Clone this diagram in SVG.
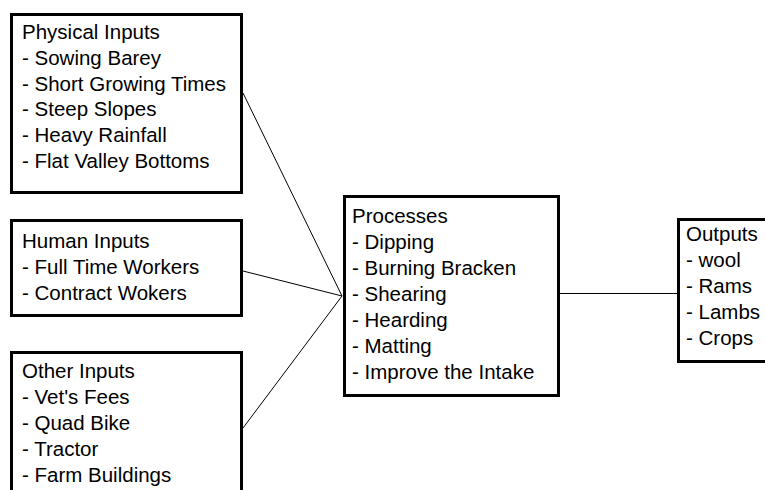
<svg xmlns="http://www.w3.org/2000/svg" width="765" height="490" viewBox="0 0 765 490">
  <style>
    .box { fill: #ffffff; stroke: #000000; stroke-width: 3; }
    .lbl { font-family: "Liberation Sans", Arial, sans-serif; font-size: 20.5px; fill: #000000; }
    .conn { stroke: #000000; stroke-width: 1; fill: none; }
  </style>
  <rect x="0" y="0" width="765" height="490" fill="#ffffff"/>
  <g id="connectors">
    <line class="conn" x1="243" y1="93" x2="342" y2="296"/>
    <line class="conn" x1="243" y1="271" x2="342" y2="296"/>
    <line class="conn" x1="243" y1="428" x2="342" y2="296"/>
    <line class="conn" x1="560" y1="293.5" x2="677" y2="293.5"/>
  </g>
  <g id="physical">
    <rect class="box" x="11.5" y="14.5" width="230" height="178"/>
    <text class="lbl" x="22" y="39">Physical Inputs</text>
    <text class="lbl" x="22" y="65">- Sowing Barey</text>
    <text class="lbl" x="22" y="91">- Short Growing Times</text>
    <text class="lbl" x="22" y="116">- Steep Slopes</text>
    <text class="lbl" x="22" y="142">- Heavy Rainfall</text>
    <text class="lbl" x="22" y="168">- Flat Valley Bottoms</text>
  </g>
  <g id="human">
    <rect class="box" x="11.5" y="220.5" width="230" height="95"/>
    <text class="lbl" x="22" y="248">Human Inputs</text>
    <text class="lbl" x="22" y="274">- Full Time Workers</text>
    <text class="lbl" x="22" y="300">- Contract Wokers</text>
  </g>
  <g id="other">
    <rect class="box" x="11.5" y="352.5" width="230" height="200"/>
    <text class="lbl" x="22" y="378">Other Inputs</text>
    <text class="lbl" x="22" y="404">- Vet's Fees</text>
    <text class="lbl" x="22" y="430">- Quad Bike</text>
    <text class="lbl" x="22" y="456">- Tractor</text>
    <text class="lbl" x="22" y="482">- Farm Buildings</text>
  </g>
  <g id="processes">
    <rect class="box" x="344.5" y="196.5" width="214" height="199"/>
    <text class="lbl" x="352" y="223">Processes</text>
    <text class="lbl" x="352" y="249">- Dipping</text>
    <text class="lbl" x="352" y="275">- Burning Bracken</text>
    <text class="lbl" x="352" y="301">- Shearing</text>
    <text class="lbl" x="352" y="327">- Hearding</text>
    <text class="lbl" x="352" y="353">- Matting</text>
    <text class="lbl" x="352" y="379">- Improve the Intake</text>
  </g>
  <g id="outputs">
    <rect class="box" x="678.5" y="219.5" width="120" height="142"/>
    <text class="lbl" x="686" y="241">Outputs</text>
    <text class="lbl" x="686" y="267">- wool</text>
    <text class="lbl" x="686" y="293">- Rams</text>
    <text class="lbl" x="686" y="319">- Lambs</text>
    <text class="lbl" x="686" y="345">- Crops</text>
  </g>
</svg>
